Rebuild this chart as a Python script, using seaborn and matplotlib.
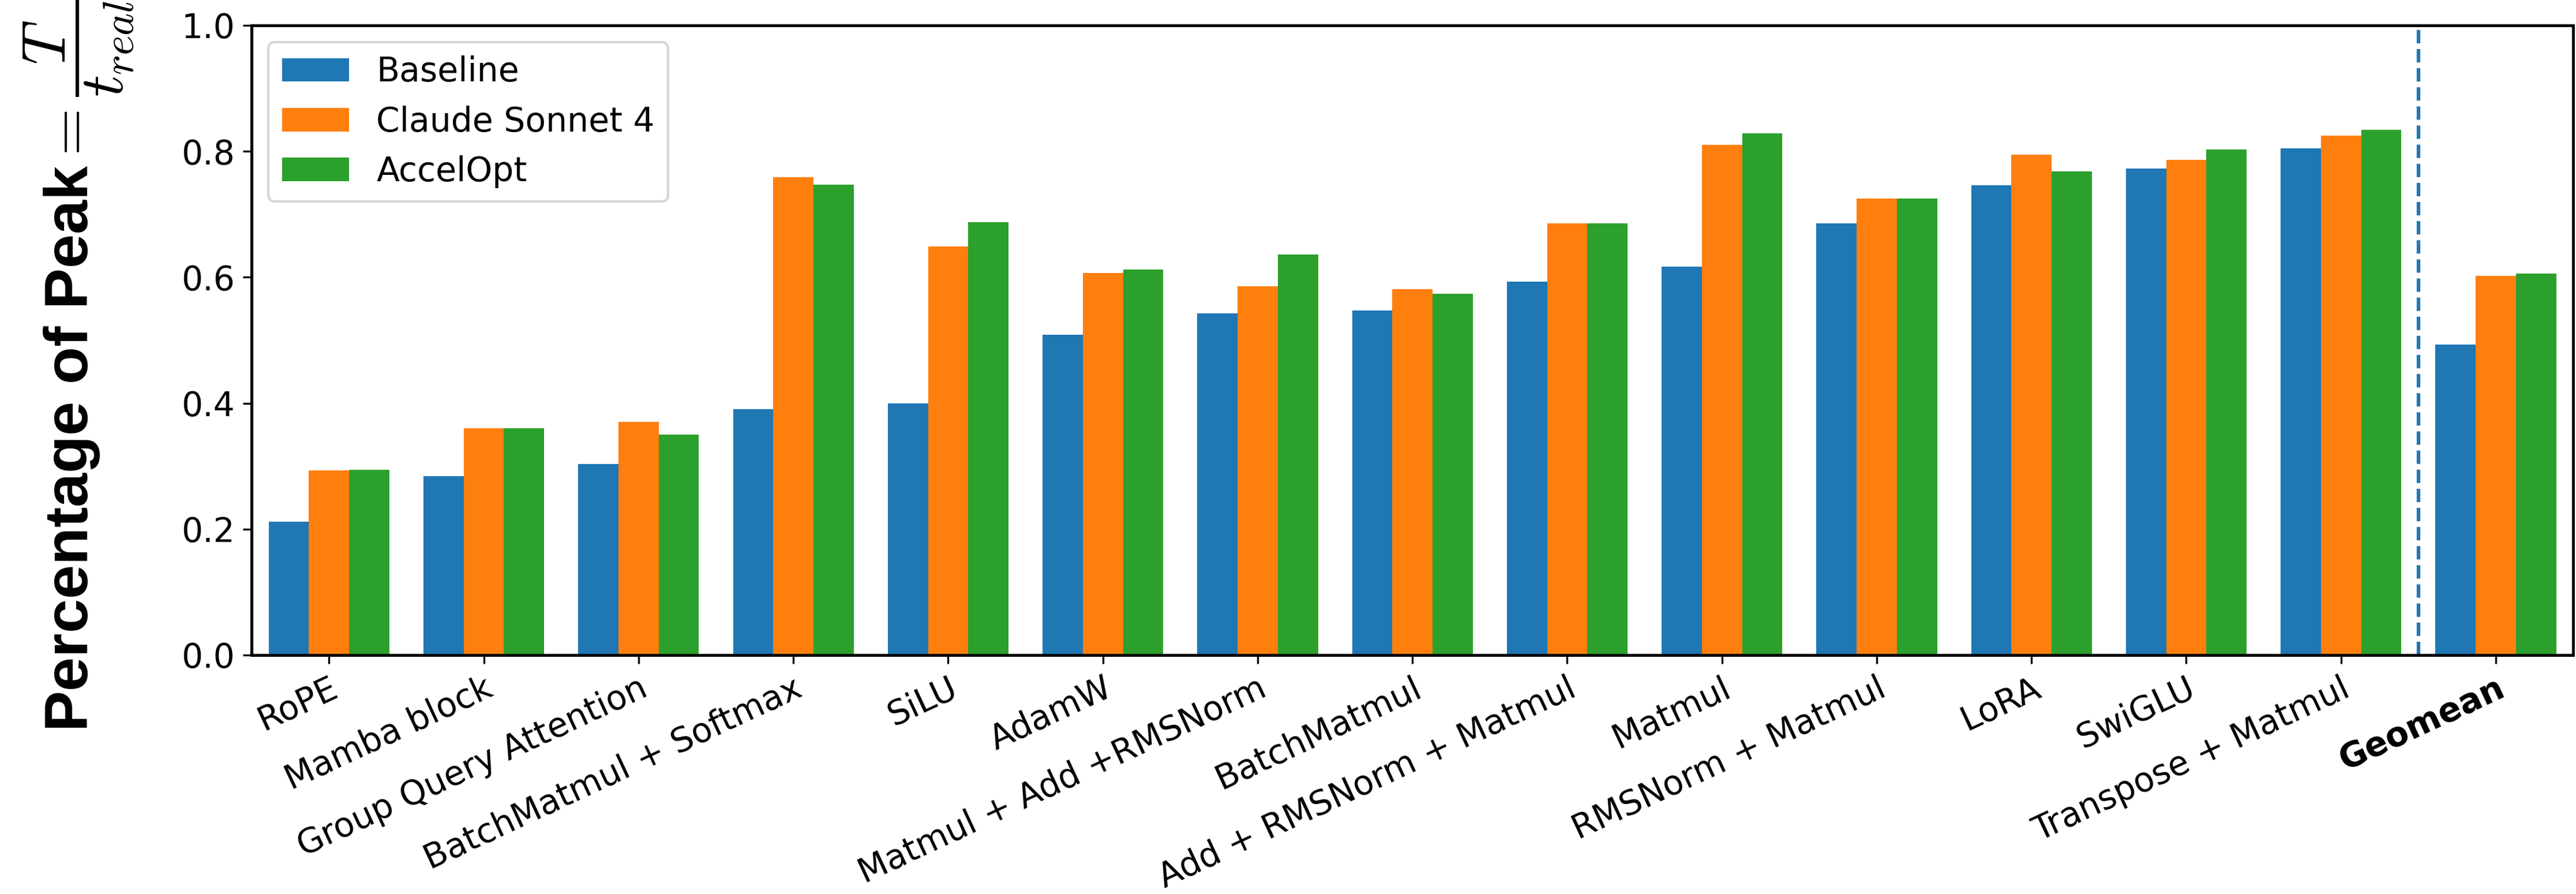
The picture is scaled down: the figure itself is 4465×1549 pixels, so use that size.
import matplotlib
matplotlib.use("Agg")
import matplotlib.pyplot as plt
import seaborn as sns
import pandas as pd

plt.rcParams["mathtext.fontset"] = "cm"

categories = ["RoPE", "Mamba block", "Group Query Attention", "BatchMatmul + Softmax",
              "SiLU", "AdamW", "Matmul + Add +RMSNorm", "BatchMatmul",
              "Add + RMSNorm + Matmul", "Matmul", "RMSNorm + Matmul", "LoRA",
              "SwiGLU", "Transpose + Matmul", "Geomean"]
baseline = [0.212, 0.284, 0.303, 0.390, 0.400, 0.509, 0.543, 0.547, 0.593, 0.617,
            0.686, 0.746, 0.773, 0.805, 0.493]
claude = [0.293, 0.360, 0.370, 0.759, 0.649, 0.607, 0.586, 0.581, 0.686, 0.810,
          0.725, 0.795, 0.786, 0.825, 0.602]
accelopt = [0.294, 0.360, 0.350, 0.747, 0.687, 0.612, 0.636, 0.574, 0.686, 0.829,
            0.725, 0.768, 0.803, 0.834, 0.606]
series_names = ["Baseline", "Claude Sonnet 4", "AccelOpt"]
colors = ["#1f77b4", "#ff7f0e", "#2ca02c"]

rows = []
for name, vals in zip(series_names, [baseline, claude, accelopt]):
    for c, v in zip(categories, vals):
        rows.append({"Kernel": c, "Series": name, "Value": v})
df = pd.DataFrame(rows)

fig = plt.figure(figsize=(4465 / 300, 1549 / 300), dpi=300)
ax = fig.add_axes([0.0977, 0.2673, 0.9012, 0.7043])

sns.barplot(data=df, x="Kernel", y="Value", hue="Series", order=categories,
            hue_order=series_names, palette=colors, saturation=1, width=0.78,
            linewidth=0, errorbar=None, ax=ax)

ax.axvline(len(categories) - 1.5, color="#1f77b4", linestyle="--", linewidth=1.5)
ax.set_xlim(-0.5, len(categories) - 0.5)
ax.set_ylim(0, 1.0)
ax.set_xlabel("")
ax.set_ylabel(r"Percentage of Peak$=\dfrac{T}{t_{real}}$", fontsize=25.5,
              fontweight="bold", fontfamily="Liberation Sans")
ax.yaxis.set_label_coords(-0.05, 0.463)
ax.tick_params(axis="both", labelsize=14)
ax.set_xticks(range(len(categories)))
ax.set_xticklabels(categories, rotation=25, ha="right", rotation_mode="anchor")
ax.get_xticklabels()[-1].set_fontweight("bold")
for sp in ax.spines.values():
    sp.set_linewidth(1.2)

leg = ax.legend(loc="upper left", fontsize=14, title=None)

fig.savefig("out.png", dpi=300)
